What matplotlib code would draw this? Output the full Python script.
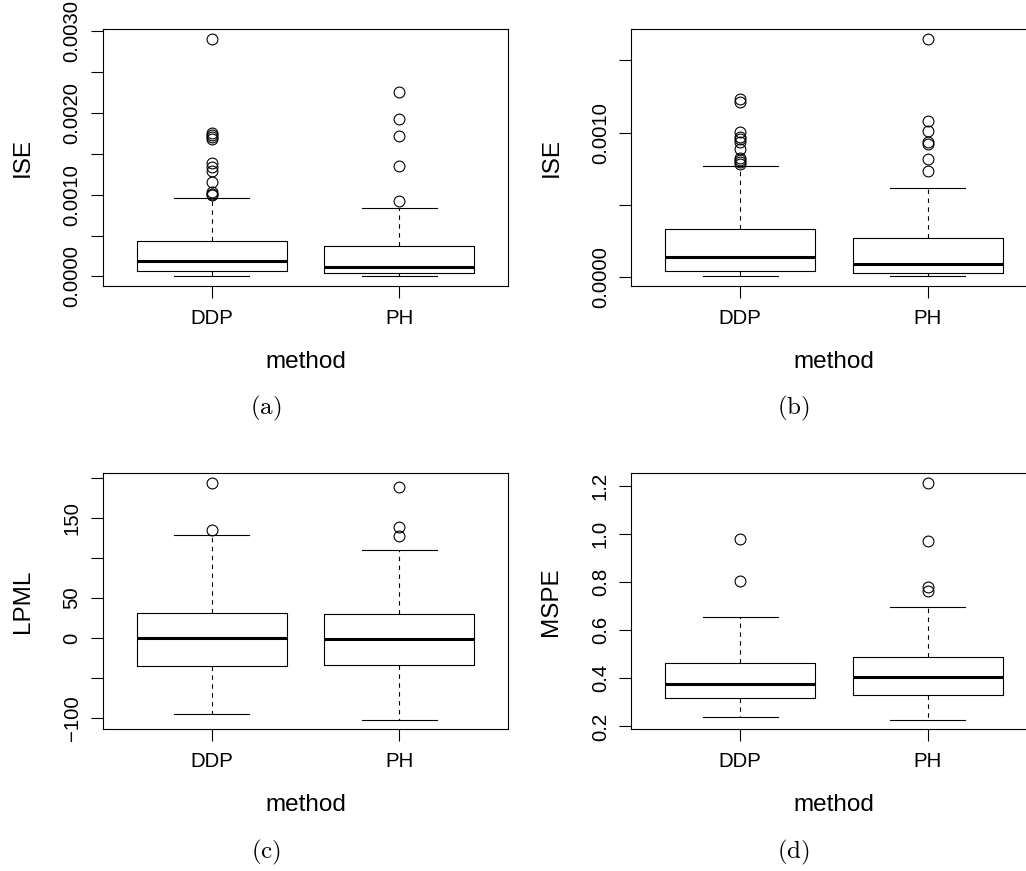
import matplotlib
matplotlib.use("Agg")
import matplotlib.pyplot as plt

plt.rcParams['font.family'] = ['Liberation Sans', 'DejaVu Sans']
plt.rcParams['mathtext.fontset'] = 'cm'

methods = ['DDP', 'PH']

# five-number summaries: [lower whisker, Q1, median, Q3, upper whisker]
ise_a_ddp = [0.000003, 0.0000612, 0.000184, 0.000433, 0.000959]
ise_a_ph = [0.0, 0.000041, 0.000114, 0.000371, 0.000841]
ise_a_ddp_out = [0.002906, 0.001747, 0.001727, 0.001702, 0.001673, 0.001388,
                 0.001339, 0.001286, 0.001155, 0.001033, 0.001004, 0.000992]
ise_a_ph_out = [0.002253, 0.001927, 0.001718, 0.001355, 0.000918]

ise_b_ddp = [0.0000023, 0.0000371, 0.000137, 0.000331, 0.000767]
ise_b_ph = [0.0000046, 0.0000278, 0.000088, 0.000269, 0.000616]
ise_b_ddp_out = [0.001231, 0.001212, 0.001006, 0.000971, 0.000952, 0.000936,
                 0.000883, 0.000827, 0.000809, 0.000793, 0.000781]
ise_b_ph_out = [0.001652, 0.001078, 0.001013, 0.000934, 0.000918, 0.000816, 0.000732]

lpml_ddp = [-95.4, -34.6, 0.0, 30.8, 129.2]
lpml_ph = [-102.5, -34.2, -1.7, 30.4, 110.0]
lpml_ddp_out = [194.6, 135.8]
lpml_ph_out = [189.6, 139.6, 127.9]

mspe_ddp = [0.2387, 0.319, 0.3784, 0.4628, 0.655]
mspe_ph = [0.2277, 0.3328, 0.4047, 0.4877, 0.6952]
mspe_ddp_out = [0.9787, 0.803]
mspe_ph_out = [1.2124, 0.969, 0.781, 0.7615]

ise_a_ticks = [0.0, 0.0005, 0.0010, 0.0015, 0.0020, 0.0025, 0.0030]
ise_a_labels = ['0.0000', '', '0.0010', '', '0.0020', '', '0.0030']
ise_b_ticks = [0.0, 0.0005, 0.0010, 0.0015]
ise_b_labels = ['0.0000', '', '0.0010', '']
lpml_ticks = [-100, -50, 0, 50, 100, 150, 200]
lpml_labels = ['\u2212100', '', '0', '50', '', '150', '']
mspe_ticks = [0.2, 0.4, 0.6, 0.8, 1.0, 1.2]
mspe_labels = ['0.2', '0.4', '0.6', '0.8', '1.0', '1.2']

W, H = 1026, 871
fig = plt.figure(figsize=(W / 100, H / 100), dpi=100)


def make_stats(boxes, outs):
    stats = []
    for name, b, o in zip(methods, boxes, outs):
        stats.append(dict(label=name, whislo=b[0], q1=b[1], med=b[2], q3=b[3],
                          whishi=b[4], fliers=o))
    return stats


def r_boxplot(px_box, boxes, outs, ylabel, ticks, labels, caption, cap_x, cap_y):
    left, top, right, bottom = px_box
    ax = fig.add_axes([left / W, 1 - bottom / H, (right - left) / W, (bottom - top) / H])
    lw = 0.8
    ax.bxp(make_stats(boxes, outs), positions=[1, 2], widths=0.8,
           boxprops=dict(color='black', lw=lw),
           medianprops=dict(color='black', lw=2.2, solid_capstyle='butt'),
           whiskerprops=dict(color='black', lw=lw, linestyle=(0, (4, 4))),
           capprops=dict(color='black', lw=lw),
           capwidths=0.4,
           flierprops=dict(marker='o', markersize=7.8, markerfacecolor='none',
                           markeredgecolor='black', markeredgewidth=0.8))

    # R style axis ranges: 4% padding around the data
    lo = min(min(b[0] for b in boxes), min(min(o) for o in outs))
    hi = max(max(b[4] for b in boxes), max(max(o) for o in outs))
    pad = 0.04 * (hi - lo)
    ax.set_ylim(lo - pad, hi + pad)
    ax.set_xlim(0.42, 2.58)

    ax.set_yticks(ticks)
    ax.set_yticklabels(labels, rotation=90, va='center', fontsize=14.7)
    ax.set_xticks([1, 2])
    ax.set_xticklabels(methods, fontsize=14.7)
    ax.tick_params(axis='both', direction='out', length=8.4, width=0.8, color='black')
    ax.tick_params(axis='y', pad=7)
    ax.tick_params(axis='x', pad=8)
    for sp in ax.spines.values():
        sp.set_linewidth(0.8)

    ax.set_ylabel(ylabel, fontsize=17.5, va='center')
    ax.yaxis.set_label_coords(-80 / (right - left), 0.5)
    ax.set_xlabel('method', fontsize=17.5, va='center')
    ax.xaxis.set_label_coords(0.5, -75.7 / (bottom - top))

    fig.text(cap_x / W, 1 - cap_y / H, r'$\mathrm{(%s)}$' % caption,
             fontsize=18, ha='center', va='center')
    return ax


r_boxplot((103, 29, 508, 286), [ise_a_ddp, ise_a_ph], [ise_a_ddp_out, ise_a_ph_out],
          'ISE', ise_a_ticks, ise_a_labels, 'a', 265.7, 408.3)
r_boxplot((631.3, 29, 1036.3, 286), [ise_b_ddp, ise_b_ph], [ise_b_ddp_out, ise_b_ph_out],
          'ISE', ise_b_ticks, ise_b_labels, 'b', 793.7, 408.3)
r_boxplot((103, 473.3, 508, 729.3), [lpml_ddp, lpml_ph], [lpml_ddp_out, lpml_ph_out],
          'LPML', lpml_ticks, lpml_labels, 'c', 265.7, 852.7)
r_boxplot((631.3, 473.3, 1036.3, 729.3), [mspe_ddp, mspe_ph], [mspe_ddp_out, mspe_ph_out],
          'MSPE', mspe_ticks, mspe_labels, 'd', 793.7, 852.7)

fig.savefig('out.png', dpi=100)
